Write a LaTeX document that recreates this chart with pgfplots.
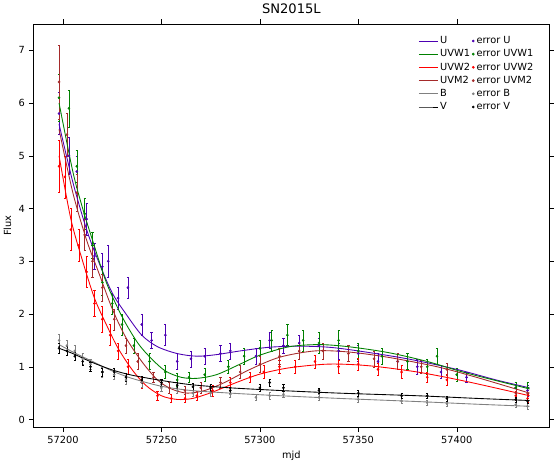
\documentclass[border=0pt]{standalone}
\usepackage{pgfplots}
\pgfplotsset{compat=1.18}
\usepackage{fontspec}
\setmainfont{DejaVu Sans}
\definecolor{mgray}{rgb}{0.5,0.5,0.5}
\definecolor{mbrown}{rgb}{0.647,0.165,0.165}
\begin{document}
\begin{tikzpicture}
\begin{axis}[scale only axis, width=473pt, height=370pt,
  xmin=57185, xmax=57447, ymin=-0.15, ymax=7.5,
  xtick={57200,57250,57300,57350,57400}, ytick={0,1,...,7},
  /pgf/number format/assume math mode=true,
  scaled x ticks=false,
  x tick label style={/pgf/number format/fixed, /pgf/number format/1000 sep={}},
  tick align=outside, tick style={black}, font=\small,
  title={SN2015L}, title style={font=\large},
  xlabel={mjd}, ylabel={Flux},
  legend columns=2, legend cell align=left, legend style={draw=none, at={(0.98,0.98)}, anchor=north east, font=\small},
  error bars/y dir=both, error bars/y explicit]
\addlegendimage{violet!60!blue,thick}\addlegendentry{U}
\addlegendimage{violet!60!blue,only marks,mark=*,mark size=1pt}\addlegendentry{error U}
\addlegendimage{green!50!black,thick}\addlegendentry{UVW1}
\addlegendimage{green!50!black,only marks,mark=*,mark size=1pt}\addlegendentry{error UVW1}
\addlegendimage{red,thick}\addlegendentry{UVW2}
\addlegendimage{red,only marks,mark=*,mark size=1pt}\addlegendentry{error UVW2}
\addlegendimage{mbrown,thick}\addlegendentry{UVM2}
\addlegendimage{mbrown,only marks,mark=*,mark size=1pt}\addlegendentry{error UVM2}
\addlegendimage{mgray,thick}\addlegendentry{B}
\addlegendimage{mgray,only marks,mark=*,mark size=1pt}\addlegendentry{error B}
\addlegendimage{black,thick}\addlegendentry{V}
\addlegendimage{black,only marks,mark=*,mark size=1pt}\addlegendentry{error V}
% error points
\addplot[forget plot,only marks,mark=*,mark size=1pt,violet!60!blue] coordinates {
(57198,5.8)+-(0,0.4)(57203,5.0)+-(0,0.35)(57207,4.7)+-(0,0.3)(57212,3.8)+-(0,0.3)(57216,3.1)+-(0,0.25)(57220,2.9)+-(0,0.25)(57223,3.0)+-(0,0.3)(57228,2.3)+-(0,0.2)(57233,2.5)+-(0,0.2)(57240,1.8)+-(0,0.2)(57245,1.5)+-(0,0.15)(57252,1.6)+-(0,0.2)(57258,1.1)+-(0,0.15)(57265,1.15)+-(0,0.15)(57272,1.2)+-(0,0.15)(57280,1.25)+-(0,0.15)(57285,1.3)+-(0,0.15)(57298,1.2)+-(0,0.15)(57305,1.5)+-(0,0.15)(57312,1.4)+-(0,0.15)(57320,1.45)+-(0,0.15)(57330,1.4)+-(0,0.15)(57340,1.3)+-(0,0.15)(57350,1.25)+-(0,0.15)(57360,1.1)+-(0,0.15)(57370,1.1)+-(0,0.15)(57380,1.0)+-(0,0.15)(57392,0.9)+-(0,0.12)(57405,0.8)+-(0,0.1)(57430,0.6)+-(0,0.1)(57436,0.55)+-(0,0.1)};
\addplot[forget plot,only marks,mark=*,mark size=1pt,green!50!black] coordinates {
(57198,6.1)+-(0,0.45)(57203,5.9)+-(0,0.35)(57207,4.8)+-(0,0.3)(57211,3.9)+-(0,0.3)(57215,3.3)+-(0,0.25)(57220,2.6)+-(0,0.25)(57225,2.2)+-(0,0.2)(57230,1.8)+-(0,0.2)(57236,1.4)+-(0,0.15)(57244,1.1)+-(0,0.15)(57252,0.9)+-(0,0.12)(57258,0.75)+-(0,0.12)(57264,0.8)+-(0,0.1)(57272,0.85)+-(0,0.12)(57284,1.0)+-(0,0.12)(57292,1.2)+-(0,0.15)(57300,1.35)+-(0,0.15)(57306,1.5)+-(0,0.2)(57314,1.6)+-(0,0.2)(57322,1.5)+-(0,0.2)(57330,1.45)+-(0,0.2)(57340,1.5)+-(0,0.2)(57350,1.3)+-(0,0.15)(57362,1.2)+-(0,0.15)(57375,1.1)+-(0,0.15)(57385,1.0)+-(0,0.15)(57390,1.2)+-(0,0.15)(57400,0.85)+-(0,0.12)(57430,0.6)+-(0,0.1)(57436,0.6)+-(0,0.1)};
\addplot[forget plot,only marks,mark=*,mark size=1pt,red] coordinates {
(57198,4.8)+-(0,0.5)(57201,4.6)+-(0,0.4)(57204,3.6)+-(0,0.4)(57208,3.3)+-(0,0.3)(57212,2.8)+-(0,0.3)(57216,2.2)+-(0,0.25)(57220,1.9)+-(0,0.25)(57224,1.6)+-(0,0.2)(57228,1.3)+-(0,0.15)(57233,1.0)+-(0,0.15)(57240,0.7)+-(0,0.1)(57248,0.45)+-(0,0.08)(57255,0.4)+-(0,0.08)(57262,0.4)+-(0,0.08)(57268,0.45)+-(0,0.08)(57276,0.55)+-(0,0.1)(57285,0.7)+-(0,0.1)(57295,0.8)+-(0,0.1)(57302,0.9)+-(0,0.12)(57310,1.0)+-(0,0.12)(57318,1.0)+-(0,0.12)(57328,1.1)+-(0,0.12)(57340,1.0)+-(0,0.12)(57350,1.05)+-(0,0.12)(57360,0.95)+-(0,0.12)(57372,0.9)+-(0,0.12)(57385,0.8)+-(0,0.1)(57395,0.75)+-(0,0.1)(57430,0.45)+-(0,0.08)(57436,0.4)+-(0,0.08)};
\addplot[forget plot,only marks,mark=*,mark size=1pt,mbrown] coordinates {
(57198,6.4)+-(0,0.7)(57202,5.4)+-(0,0.4)(57207,4.3)+-(0,0.35)(57211,3.5)+-(0,0.3)(57215,3.0)+-(0,0.3)(57220,2.5)+-(0,0.25)(57226,1.9)+-(0,0.2)(57232,1.4)+-(0,0.15)(57238,1.1)+-(0,0.15)(57246,0.8)+-(0,0.1)(57254,0.6)+-(0,0.1)(57262,0.55)+-(0,0.08)(57270,0.6)+-(0,0.1)(57280,0.7)+-(0,0.1)(57290,0.9)+-(0,0.12)(57300,1.05)+-(0,0.15)(57310,1.2)+-(0,0.15)(57320,1.3)+-(0,0.15)(57332,1.3)+-(0,0.15)(57345,1.25)+-(0,0.15)(57358,1.15)+-(0,0.15)(57370,1.1)+-(0,0.15)(57382,1.0)+-(0,0.12)(57395,0.95)+-(0,0.12)(57430,0.5)+-(0,0.1)(57436,0.5)+-(0,0.1)};
\addplot[forget plot,only marks,mark=*,mark size=1pt,mgray] coordinates {
(57198,1.5)+-(0,0.12)(57202,1.4)+-(0,0.1)(57206,1.3)+-(0,0.1)(57210,1.15)+-(0,0.1)(57214,1.05)+-(0,0.1)(57220,0.9)+-(0,0.1)(57226,0.85)+-(0,0.08)(57232,0.75)+-(0,0.08)(57240,0.7)+-(0,0.08)(57250,0.6)+-(0,0.06)(57258,0.55)+-(0,0.06)(57266,0.5)+-(0,0.06)(57275,0.5)+-(0,0.06)(57285,0.48)+-(0,0.06)(57298,0.42)+-(0,0.06)(57305,0.45)+-(0,0.06)(57312,0.48)+-(0,0.06)(57330,0.42)+-(0,0.05)(57350,0.38)+-(0,0.05)(57372,0.35)+-(0,0.05)(57385,0.32)+-(0,0.05)(57395,0.3)+-(0,0.05)(57430,0.28)+-(0,0.05)(57436,0.25)+-(0,0.05)};
\addplot[forget plot,only marks,mark=*,mark size=1pt,black] coordinates {
(57198,1.35)+-(0,0.1)(57202,1.3)+-(0,0.08)(57206,1.2)+-(0,0.08)(57210,1.1)+-(0,0.08)(57214,1.0)+-(0,0.08)(57220,0.9)+-(0,0.08)(57226,0.9)+-(0,0.08)(57232,0.8)+-(0,0.07)(57240,0.75)+-(0,0.07)(57250,0.7)+-(0,0.06)(57258,0.65)+-(0,0.06)(57266,0.62)+-(0,0.06)(57275,0.6)+-(0,0.06)(57285,0.55)+-(0,0.06)(57300,0.6)+-(0,0.06)(57305,0.7)+-(0,0.06)(57312,0.6)+-(0,0.06)(57330,0.55)+-(0,0.05)(57350,0.5)+-(0,0.05)(57372,0.45)+-(0,0.05)(57385,0.45)+-(0,0.05)(57395,0.4)+-(0,0.05)(57430,0.38)+-(0,0.05)(57436,0.35)+-(0,0.05)};
% model lines
\addplot[forget plot,thick,smooth,violet!60!blue] coordinates {(57198,5.6)(57205,4.5)(57212,3.6)(57218,3.0)(57225,2.4)(57232,2.0)(57240,1.6)(57248,1.38)(57258,1.25)(57268,1.2)(57278,1.23)(57290,1.3)(57305,1.37)(57320,1.39)(57335,1.37)(57350,1.3)(57375,1.15)(57400,0.95)(57420,0.75)(57437,0.6)};
\addplot[forget plot,thick,smooth,green!50!black] coordinates {(57198,6.0)(57205,4.7)(57210,4.0)(57215,3.4)(57222,2.6)(57230,1.95)(57238,1.45)(57245,1.15)(57252,0.92)(57260,0.8)(57268,0.78)(57278,0.85)(57290,1.05)(57300,1.22)(57315,1.38)(57330,1.42)(57345,1.38)(57365,1.27)(57385,1.1)(57405,0.88)(57437,0.58)};
\addplot[forget plot,thick,smooth,red] coordinates {(57198,5.0)(57204,3.8)(57210,3.0)(57216,2.3)(57222,1.8)(57228,1.35)(57235,0.95)(57242,0.65)(57250,0.45)(57258,0.38)(57266,0.4)(57276,0.52)(57288,0.7)(57300,0.86)(57315,0.98)(57335,1.05)(57355,1.02)(57380,0.9)(57405,0.72)(57437,0.45)};
\addplot[forget plot,thick,smooth,mbrown] coordinates {(57198,5.5)(57205,4.3)(57212,3.4)(57218,2.8)(57225,2.1)(57232,1.55)(57240,1.1)(57248,0.75)(57255,0.58)(57263,0.5)(57272,0.55)(57282,0.7)(57295,0.95)(57310,1.18)(57328,1.3)(57345,1.28)(57365,1.18)(57390,1.0)(57410,0.8)(57437,0.5)};
\addplot[forget plot,thick,smooth,mgray] coordinates {(57198,1.42)(57205,1.28)(57215,1.1)(57225,0.92)(57235,0.78)(57250,0.63)(57265,0.55)(57285,0.5)(57305,0.46)(57340,0.4)(57380,0.34)(57410,0.29)(57437,0.25)};
\addplot[forget plot,thick,smooth,black] coordinates {(57198,1.35)(57205,1.25)(57215,1.08)(57225,0.94)(57235,0.84)(57250,0.74)(57265,0.66)(57285,0.6)(57310,0.55)(57340,0.5)(57380,0.45)(57410,0.4)(57437,0.36)};
\end{axis}
\end{tikzpicture}
\end{document}
